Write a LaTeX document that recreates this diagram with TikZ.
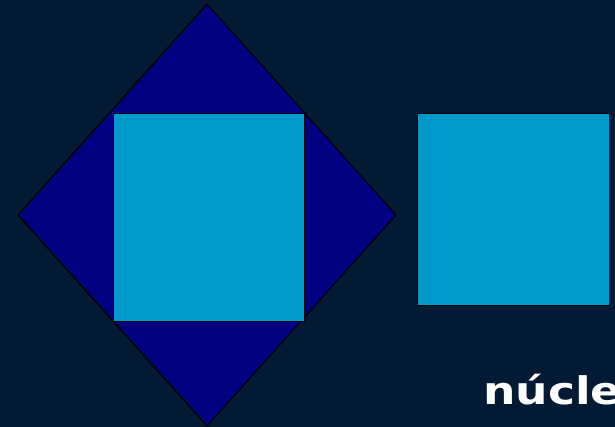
\documentclass[tikz,border=0pt]{standalone}
\usepackage{fontspec}
\newfontfamily\labelfont{DejaVu Sans}
\definecolor{bgnavy}{HTML}{021A33}
\definecolor{deepblue}{HTML}{000080}
\definecolor{cellblue}{HTML}{0099CC}
\begin{document}
\begin{tikzpicture}[x=1pt,y=-1pt]
\useasboundingbox (0,0) rectangle (615,427);
\clip (0,0) rectangle (615,427);
\fill[bgnavy] (0,0) rectangle (615,427);
\coordinate (top) at (207,4);
\coordinate (left) at (18,215);
\coordinate (bottom) at (207,426);
\coordinate (right) at (396,215);
\filldraw[fill=deepblue, draw=black, line width=1.3pt, line join=round] (top) -- (right) -- (bottom) -- (left) -- cycle;
\node[draw=black, fill=cellblue, line width=1.3pt, minimum width=191pt, minimum height=208pt, inner sep=0pt, anchor=north west] (core) at (113,113) {};
\node[draw=black, fill=cellblue, line width=1.3pt, minimum width=192pt, minimum height=192pt, inner sep=0pt, anchor=north west] (single) at (417,113) {};
\node[anchor=base west, inner sep=0pt, text=white, xscale=1.2, transform shape, font=\labelfont\bfseries\fontsize{38}{42}\selectfont] (caption) at (483,404) {núcleo};
\end{tikzpicture}
\end{document}
